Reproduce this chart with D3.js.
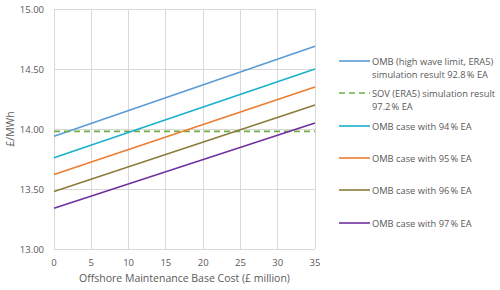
<!DOCTYPE html>
<html><head><meta charset="utf-8">
<script src="https://cdn.jsdelivr.net/npm/d3@7"></script>
<style>body{margin:0;background:#fff}svg{display:block}text{font-family:"Open Sans",sans-serif;fill:#595959}</style>
</head><body><svg id="c" width="500" height="290"></svg>
<script>
const xTicks = [0,5,10,15,20,25,30,35];
const yTicks = [13.00,13.50,14.00,14.50,15.00];
const xEnds = [0,35];
const omb928 = [13.94,14.69];
const sov972 = [13.98,13.98];
const omb94 = [13.76,14.50];
const omb95 = [13.62,14.35];
const omb96 = [13.48,14.20];
const omb97 = [13.34,14.05];
const seriesNames = [["OMB (high wave limit, ERA5)","simulation result 92.8\u202f% EA"],["SOV (ERA5) simulation result","97.2\u202f% EA"],["OMB case with 94\u202f% EA"],["OMB case with 95\u202f% EA"],["OMB case with 96\u202f% EA"],["OMB case with 97\u202f% EA"]];
const colors = ["#5B9BD5","#70AD47","#1AAFCB","#ED7D31","#8C7B3A","#7030A0"];
const series = [omb928,sov972,omb94,omb95,omb96,omb97];

const svg = d3.select("#c");
const x = d3.scaleLinear().domain([0,35]).range([54,315]);
const y = d3.scaleLinear().domain([13,15]).range([249,9]);

svg.append("g").selectAll("line").data(xTicks).join("line")
  .attr("x1",d=>x(d)).attr("x2",d=>x(d)).attr("y1",y(13)).attr("y2",y(15))
  .attr("stroke","#D9D9D9").attr("stroke-width",1).attr("shape-rendering","crispEdges");
svg.append("g").selectAll("line").data(yTicks).join("line")
  .attr("x1",x(0)).attr("x2",x(35)).attr("y1",d=>y(d)).attr("y2",d=>y(d))
  .attr("stroke","#D9D9D9").attr("stroke-width",1).attr("shape-rendering","crispEdges");

svg.append("g").selectAll("text").data(yTicks).join("text")
  .attr("x",44).attr("y",d=>y(d)+3.5).attr("text-anchor","end").attr("font-size",9.5)
  .text(d=>d.toFixed(2));
svg.append("g").selectAll("text").data(xTicks).join("text")
  .attr("x",d=>x(d)).attr("y",266).attr("text-anchor","middle").attr("font-size",9.5)
  .text(d=>d);
svg.append("text").attr("x",x(17.5)).attr("y",282).attr("text-anchor","middle").attr("font-size",10.5)
  .text("Offshore Maintenance Base Cost (£ million)");
svg.append("text").attr("transform",`translate(14,${y(14)}) rotate(-90)`).attr("text-anchor","middle").attr("font-size",10.5)
  .text("£/MWh");

const line = d3.line().x((d,i)=>x(xEnds[i])).y(d=>y(d));
series.forEach((s,i)=>{
  svg.append("path").attr("d",line(s)).attr("fill","none").attr("stroke",colors[i])
    .attr("stroke-width",1.6).attr("stroke-dasharray",i===1?"6,4":null);
});

const legY = [61,93,126,158,190,223];
seriesNames.forEach((n,i)=>{
  const g = svg.append("g");
  g.append("line").attr("x1",339).attr("x2",370).attr("y1",legY[i]).attr("y2",legY[i])
    .attr("stroke",colors[i]).attr("stroke-width",1.6).attr("stroke-dasharray",i===1?"6,4":null);
  n.forEach((t,j)=>g.append("text").attr("x",372).attr("y",legY[i]+3.5+j*13).attr("font-size",9.3).text(t));
});
</script></body></html>
